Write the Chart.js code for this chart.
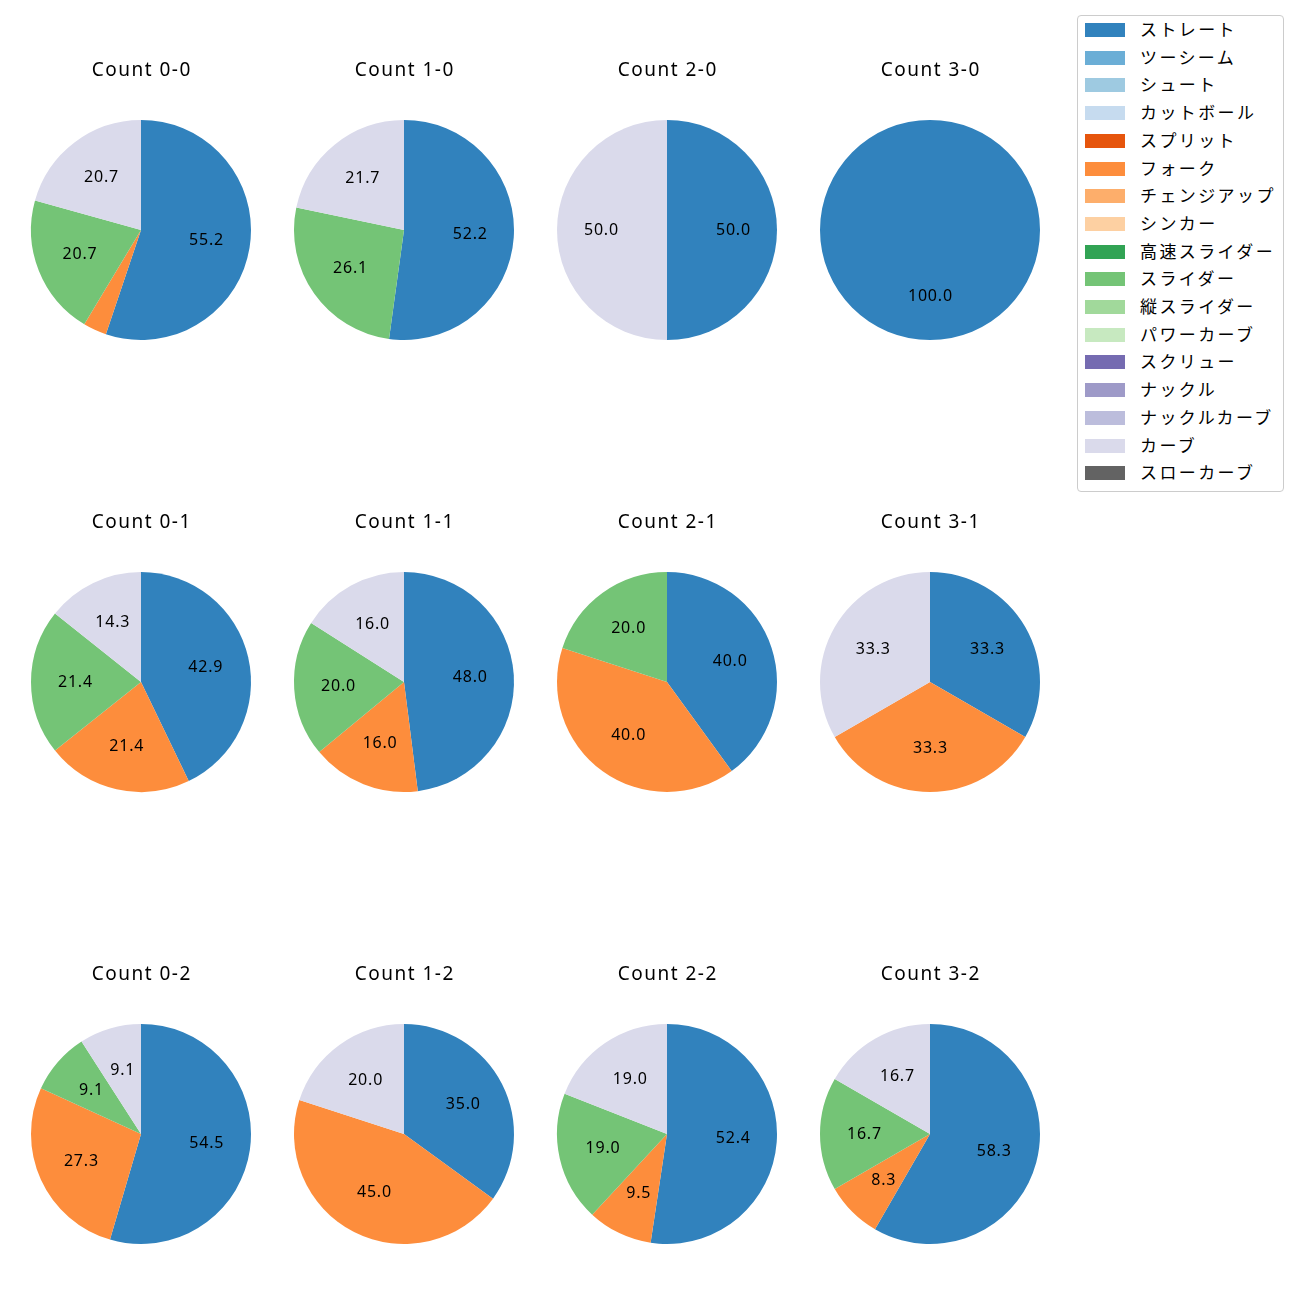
<!DOCTYPE html>
<html><head><meta charset="utf-8">
<script src="https://cdn.jsdelivr.net/npm/chart.js@4/dist/chart.umd.min.js"></script>
<style>
body{margin:0;background:#fff;width:1300px;height:1300px;position:relative;overflow:hidden;font-family:"Noto Sans CJK JP","Noto Sans",sans-serif;}
canvas.pie{position:absolute;}
#legend{position:absolute;left:1077px;top:15px;width:207px;height:477px;border:1px solid #cccccc;border-radius:4px;box-sizing:border-box;}
.item{position:absolute;left:7px;height:20px;}
.sw{position:absolute;left:0;top:3px;width:40px;height:14px;}
.lb{position:absolute;left:55px;top:-3px;font-size:17px;letter-spacing:2.4px;white-space:nowrap;color:#000;line-height:24px;}
</style></head><body>
<div id="legend"></div>
<script>
// pitch types (legend order) and colours
const pitchTypes = ["ストレート","ツーシーム","シュート","カットボール","スプリット","フォーク","チェンジアップ","シンカー","高速スライダー","スライダー","縦スライダー","パワーカーブ","スクリュー","ナックル","ナックルカーブ","カーブ","スローカーブ"];
const pitchColors = ["#3182bd","#6baed6","#9ecae1","#c6dbef","#e6550d","#fd8d3c","#fdae6b","#fdd0a2","#31a354","#74c476","#a1d99b","#c7e9c0","#756bb1","#9e9ac8","#bcbddc","#dadaeb","#636363"];

// pitch counts per ball-strike count, in pitchTypes order
const count00 = [16,0,0,0,0,1,0,0,0,6,0,0,0,0,0,6,0];
const count10 = [12,0,0,0,0,0,0,0,0,6,0,0,0,0,0,5,0];
const count20 = [1,0,0,0,0,0,0,0,0,0,0,0,0,0,0,1,0];
const count30 = [1,0,0,0,0,0,0,0,0,0,0,0,0,0,0,0,0];
const count01 = [6,0,0,0,0,3,0,0,0,3,0,0,0,0,0,2,0];
const count11 = [12,0,0,0,0,4,0,0,0,5,0,0,0,0,0,4,0];
const count21 = [2,0,0,0,0,2,0,0,0,1,0,0,0,0,0,0,0];
const count31 = [1,0,0,0,0,1,0,0,0,0,0,0,0,0,0,1,0];
const count02 = [6,0,0,0,0,3,0,0,0,1,0,0,0,0,0,1,0];
const count12 = [7,0,0,0,0,9,0,0,0,0,0,0,0,0,0,4,0];
const count22 = [11,0,0,0,0,2,0,0,0,4,0,0,0,0,0,4,0];
const count32 = [7,0,0,0,0,1,0,0,0,2,0,0,0,0,0,2,0];

const countTitles = ["Count 0-0","Count 1-0","Count 2-0","Count 3-0","Count 0-1","Count 1-1","Count 2-1","Count 3-1","Count 0-2","Count 1-2","Count 2-2","Count 3-2"];
const countData = [count00,count10,count20,count30,count01,count11,count21,count31,count02,count12,count22,count32];

// layout
const colX = [141,404,667,930];
const rowY = [230,682,1134];

function drawSpaced(ctx, text, x, y, spacing){
  // centred text with letter spacing
  const ws = [...text].map(ch=>ctx.measureText(ch).width);
  const total = ws.reduce((a,b)=>a+b,0) + spacing*(ws.length-1);
  let cx = x - total/2;
  ctx.textAlign='left';
  [...text].forEach((ch,i)=>{ ctx.fillText(ch, cx, y); cx += ws[i] + spacing; });
}

const labelPlugin = {
  id:'pctLabels',
  afterDatasetsDraw(chart){
    const ctx = chart.ctx;
    const meta = chart.getDatasetMeta(0);
    const data = chart.data.datasets[0].data;
    const total = data.reduce((a,b)=>a+b,0);
    ctx.save();
    ctx.font = '16px "Noto Sans","Open Sans",sans-serif';
    ctx.fillStyle = '#000';
    ctx.textBaseline = 'middle';
    meta.data.forEach((arc,i)=>{
      const v = data[i];
      if(!v) return;
      const pct = v/total*100;
      if(pct < 5) return;
      const p = arc.getProps(['x','y','startAngle','endAngle','outerRadius'],true);
      const mid = (p.startAngle+p.endAngle)/2;
      const r = p.outerRadius*0.6;
      drawSpaced(ctx, pct.toFixed(1), p.x + Math.cos(mid)*r, p.y + Math.sin(mid)*r, 0.8);
    });
    // title
    const ca = chart.chartArea;
    ctx.font = '19px "Noto Sans","Open Sans",sans-serif';
    drawSpaced(ctx, chart.options.plugins.pieTitle.text, (ca.left+ca.right)/2, (ca.top+ca.bottom)/2 - 159, 1.5);
    ctx.restore();
  }
};

countData.forEach((vals,k)=>{
  const cx = colX[k%4], cy = rowY[Math.floor(k/4)];
  const cv = document.createElement('canvas');
  cv.className='pie';
  cv.width=262; cv.height=310;
  cv.style.width='262px'; cv.style.height='310px';
  cv.style.left=(cx-131)+'px'; cv.style.top=(cy-190)+'px';
  document.body.appendChild(cv);
  new Chart(cv,{
    type:'pie',
    data:{labels:pitchTypes,datasets:[{data:vals,backgroundColor:pitchColors,borderWidth:0}]},
    options:{
      responsive:false,animation:false,
      layout:{padding:{top:80,bottom:10,left:21,right:21}},
      plugins:{legend:{display:false},tooltip:{enabled:false},pieTitle:{text:countTitles[k]}}
    },
    plugins:[labelPlugin]
  });
});

// legend
const lg = document.getElementById('legend');
pitchTypes.forEach((name,i)=>{
  const it = document.createElement('div');
  it.className='item';
  it.style.top=(4 + i*27.7)+'px';
  it.innerHTML='<div class="sw" style="background:'+pitchColors[i]+'"></div><div class="lb">'+name+'</div>';
  lg.appendChild(it);
});
</script>
</body></html>
